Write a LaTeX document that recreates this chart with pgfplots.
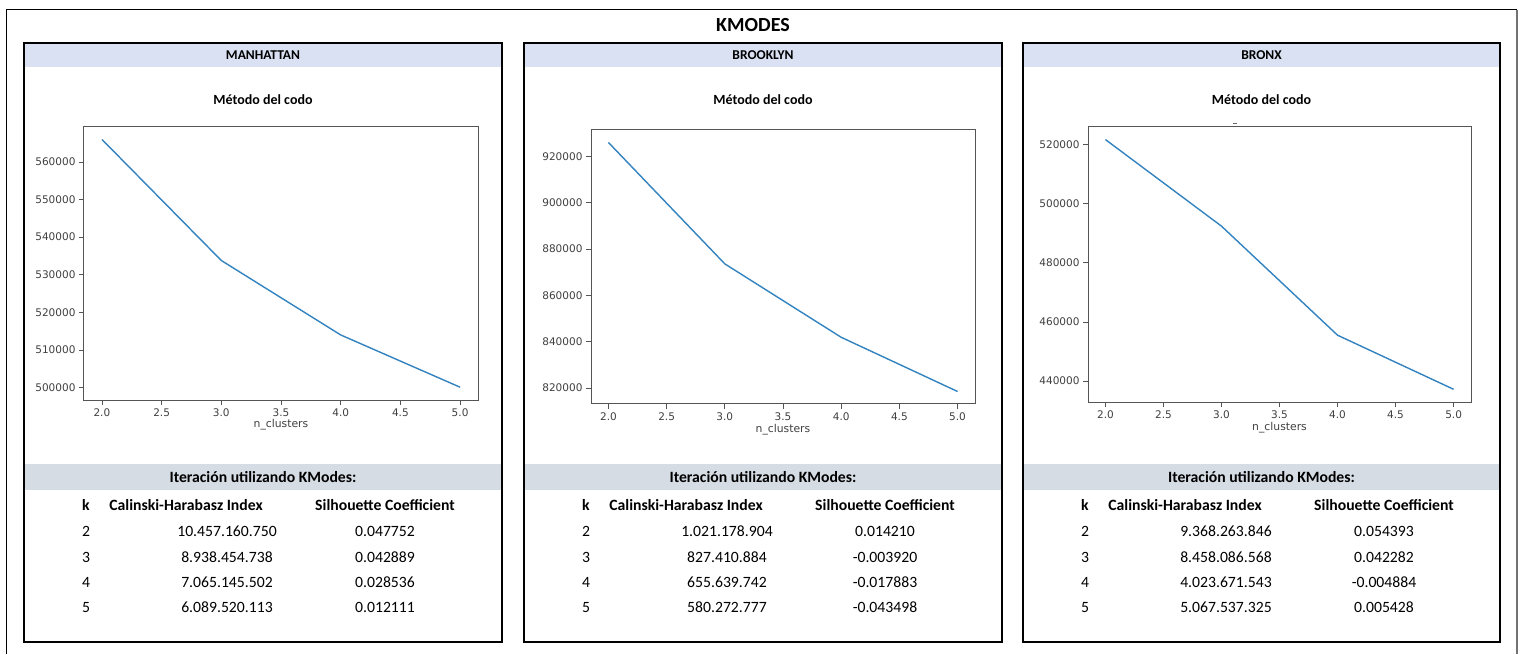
\documentclass[border=0pt]{standalone}
\usepackage{fontspec}
\setmainfont{Carlito}
\newfontfamily\dejavu{DejaVu Sans}
\usepackage{pgfplots}
\pgfplotsset{compat=1.18}
\definecolor{hdr}{HTML}{D9E1F2}
\definecolor{tband}{HTML}{D6DCE4}
\definecolor{mplblue}{HTML}{3283C0}
\definecolor{frm}{HTML}{555555}
\pgfplotsset{
  elbow/.style={
    scale only axis,
    anchor=south west,
    xmin=1.85, xmax=5.15,
    xtick={2,2.5,3,3.5,4,4.5,5},
    tick align=outside,
    major tick length=5pt,
    xtick pos=bottom, ytick pos=left,
    tick style={frm, line width=0.8pt},
    axis line style={frm, line width=1pt},
    ticklabel style={font=\dejavu\fontsize{10.5}{12}\selectfont, text=black!75},
    /pgf/number format/assume math mode=true,
    scaled y ticks=false,
    yticklabel style={/pgf/number format/.cd, fixed, 1000 sep={}},
    xticklabel style={/pgf/number format/.cd, fixed, fixed zerofill, precision=1},
    xlabel={n\_clusters},
    xlabel style={font=\dejavu\fontsize{10.8}{12}\selectfont, text=black!75, at={(axis description cs:0.5,-0.092)}, anchor=center},
  }
}
\newcommand{\panelframe}[3]{% left, right, name
  \fill[hdr] (#1,587) rectangle (#2,611);
  \fill[tband] (#1,164) rectangle (#2,190);
  \draw[black, line width=1.6pt] (#1,12) rectangle (#2,611);
  \node[anchor=base, font=\bfseries\fontsize{13.5}{15}\selectfont] at ({(#1+#2)/2},594.6) {#3};
  \node[anchor=base, font=\bfseries\fontsize{14}{16}\selectfont] at ({(#1+#2)/2},549.5) {Método del codo};
  \node[anchor=base, font=\bfseries\fontsize{15.7}{18}\selectfont] at ({(#1+#2)/2},172) {Iteración utilizando KModes:};
  \node[anchor=base, font=\bfseries\fontsize{15.7}{18}\selectfont] at ({#1+62},144) {k};
  \node[anchor=base, font=\bfseries\fontsize{15.7}{18}\selectfont] at ({#1+162},144) {Calinski-Harabasz Index};
  \node[anchor=base, font=\bfseries\fontsize{15.7}{18}\selectfont] at ({#1+361},144) {Silhouette Coefficient};
}
\newcommand{\tabrow}[5]{% left, y, k, ch, sil
  \node[anchor=base, font=\fontsize{15.7}{18}\selectfont] at ({#1+62},#2) {#3};
  \node[anchor=base, font=\fontsize{15.7}{18}\selectfont] at ({#1+203},#2) {#4};
  \node[anchor=base, font=\fontsize{15.7}{18}\selectfont] at ({#1+361},#2) {#5};
}
\begin{document}
\begin{tikzpicture}[x=1pt,y=1pt]
\useasboundingbox (0,0) rectangle (1520,654);
\fill[white] (0,0) rectangle (1520,654);
% outer frame
\draw[black, line width=1pt] (6,0) -- (6,644) -- (1517,644);
\draw[black!55, line width=2pt] (1517,644) -- (1517,0);
\node[anchor=base, font=\bfseries\fontsize{20}{22}\selectfont] at (753,622.6) {KMODES};

% ---------- MANHATTAN ----------
\panelframe{24}{502}{MANHATTAN}
\tabrow{24}{118}{2}{10.457.160.750}{0.047752}
\tabrow{24}{92}{3}{8.938.454.738}{0.042889}
\tabrow{24}{67}{4}{7.065.145.502}{0.028536}
\tabrow{24}{42}{5}{6.089.520.113}{0.012111}
\begin{axis}[elbow, at={(84pt,254pt)}, width=394pt, height=273pt,
  ymin=496700, ymax=569300, ytick={500000,510000,520000,530000,540000,550000,560000}]
\addplot[mplblue, line width=1.4pt] coordinates {(2,566000) (3,533800) (4,514000) (5,500100)};
\end{axis}

% ---------- BROOKLYN ----------
\panelframe{524}{1002}{BROOKLYN}
\tabrow{524}{118}{2}{1.021.178.904}{0.014210}
\tabrow{524}{92}{3}{827.410.884}{-0.003920}
\tabrow{524}{67}{4}{655.639.742}{-0.017883}
\tabrow{524}{42}{5}{580.272.777}{-0.043498}
\begin{axis}[elbow, at={(591pt,250pt)}, width=384pt, height=274pt,
  ymin=813100, ymax=931400, ytick={820000,840000,860000,880000,900000,920000}]
\addplot[mplblue, line width=1.4pt] coordinates {(2,926000) (3,873600) (4,841900) (5,818500)};
\end{axis}

% ---------- BRONX ----------
\panelframe{1023}{1500}{BRONX}
\tabrow{1023}{118}{2}{9.368.263.846}{0.054393}
\tabrow{1023}{92}{3}{8.458.086.568}{0.042282}
\tabrow{1023}{67}{4}{4.023.671.543}{-0.004884}
\tabrow{1023}{42}{5}{5.067.537.325}{0.005428}
\begin{axis}[elbow, at={(1088pt,252pt)}, width=383pt, height=275pt,
  ymin=432900, ymax=525950, ytick={440000,460000,480000,500000,520000}]
\addplot[mplblue, line width=1.4pt] coordinates {(2,521700) (3,492400) (4,455500) (5,437200)};
\end{axis}
\draw[black!60, line width=1pt] (1233,530) -- (1237,530);
\end{tikzpicture}
\end{document}
